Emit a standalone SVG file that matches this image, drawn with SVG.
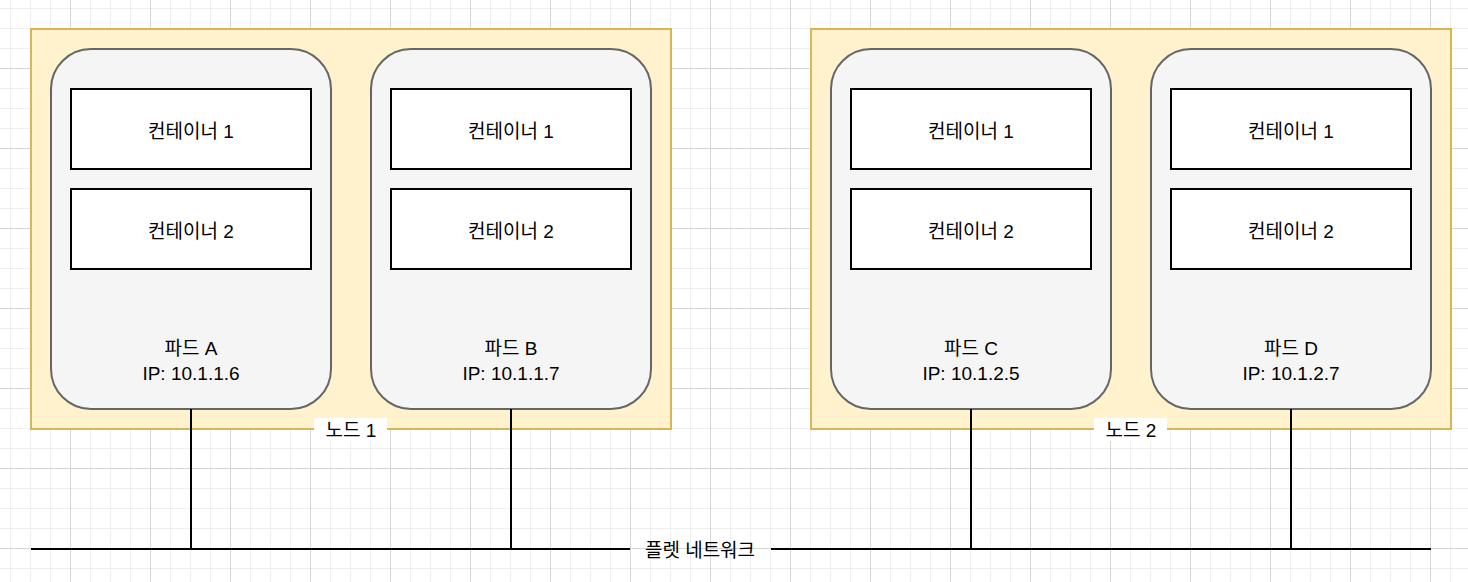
<svg xmlns="http://www.w3.org/2000/svg" width="1468" height="582" viewBox="0 0 1468 582">
<defs>
<pattern id="grid" patternUnits="userSpaceOnUse" x="10" y="8" width="80" height="80">
<rect x="0" y="0" width="1" height="80" fill="#efefef"/>
<rect x="20" y="0" width="1" height="80" fill="#efefef"/>
<rect x="40" y="0" width="1" height="80" fill="#efefef"/>
<rect x="0" y="0" width="80" height="1" fill="#efefef"/>
<rect x="0" y="20" width="80" height="1" fill="#efefef"/>
<rect x="0" y="40" width="80" height="1" fill="#efefef"/>
<rect x="60" y="0" width="1" height="80" fill="#d6d6d6"/>
<rect x="0" y="60" width="80" height="1" fill="#d6d6d6"/>
</pattern>
</defs>
<style>
text{font-family:"Liberation Sans","Noto Sans CJK KR",Arial,sans-serif;font-size:19px;fill:#000;text-anchor:middle}
.node{fill:#fff2cc;stroke:#d6b656;stroke-width:2}
.pod{fill:#f5f5f5;stroke:#666666;stroke-width:2}
.ctr{fill:#ffffff;stroke:#000000;stroke-width:2}
.lblbg{fill:#ffffff}
.wire{stroke:#000000;stroke-width:2;fill:none}
</style>
<rect x="0" y="0" width="1468" height="582" fill="#ffffff"/>
<rect x="0" y="0" width="1468" height="582" fill="url(#grid)"/>

<g id="node1">
<rect class="node" x="31" y="29" width="640" height="400"/>
<rect class="lblbg" x="314" y="418" width="73" height="23"/>
<text x="351" y="437">노드 1</text>
</g>
<g id="node2">
<rect class="node" x="811" y="29" width="640" height="400"/>
<rect class="lblbg" x="1094" y="418" width="73" height="23"/>
<text x="1131" y="437">노드 2</text>
</g>

<g id="podA">
<rect class="pod" x="51" y="49" width="280" height="360" rx="40" ry="40"/>
<text x="191" y="355">파드 A</text>
<text x="191" y="380">IP: 10.1.1.6</text>
</g>
<g id="podA-c1"><rect class="ctr" x="71" y="89" width="240" height="80"/><text x="191" y="138">컨테이너 1</text></g>
<g id="podA-c2"><rect class="ctr" x="71" y="189" width="240" height="80"/><text x="191" y="238">컨테이너 2</text></g>

<g id="podB">
<rect class="pod" x="371" y="49" width="280" height="360" rx="40" ry="40"/>
<text x="511" y="355">파드 B</text>
<text x="511" y="380">IP: 10.1.1.7</text>
</g>
<g id="podB-c1"><rect class="ctr" x="391" y="89" width="240" height="80"/><text x="511" y="138">컨테이너 1</text></g>
<g id="podB-c2"><rect class="ctr" x="391" y="189" width="240" height="80"/><text x="511" y="238">컨테이너 2</text></g>

<g id="podC">
<rect class="pod" x="831" y="49" width="280" height="360" rx="40" ry="40"/>
<text x="971" y="355">파드 C</text>
<text x="971" y="380">IP: 10.1.2.5</text>
</g>
<g id="podC-c1"><rect class="ctr" x="851" y="89" width="240" height="80"/><text x="971" y="138">컨테이너 1</text></g>
<g id="podC-c2"><rect class="ctr" x="851" y="189" width="240" height="80"/><text x="971" y="238">컨테이너 2</text></g>

<g id="podD">
<rect class="pod" x="1151" y="49" width="280" height="360" rx="40" ry="40"/>
<text x="1291" y="355">파드 D</text>
<text x="1291" y="380">IP: 10.1.2.7</text>
</g>
<g id="podD-c1"><rect class="ctr" x="1171" y="89" width="240" height="80"/><text x="1291" y="138">컨테이너 1</text></g>
<g id="podD-c2"><rect class="ctr" x="1171" y="189" width="240" height="80"/><text x="1291" y="238">컨테이너 2</text></g>

<g id="connectors">
<line class="wire" x1="191" y1="409" x2="191" y2="549"/>
<line class="wire" x1="511" y1="409" x2="511" y2="549"/>
<line class="wire" x1="971" y1="409" x2="971" y2="549"/>
<line class="wire" x1="1291" y1="409" x2="1291" y2="549"/>
<line class="wire" x1="31" y1="549" x2="630" y2="549"/>
<line class="wire" x1="771" y1="549" x2="1431" y2="549"/>
<text x="700" y="557">플렛 네트워크</text>
</g>
</svg>
